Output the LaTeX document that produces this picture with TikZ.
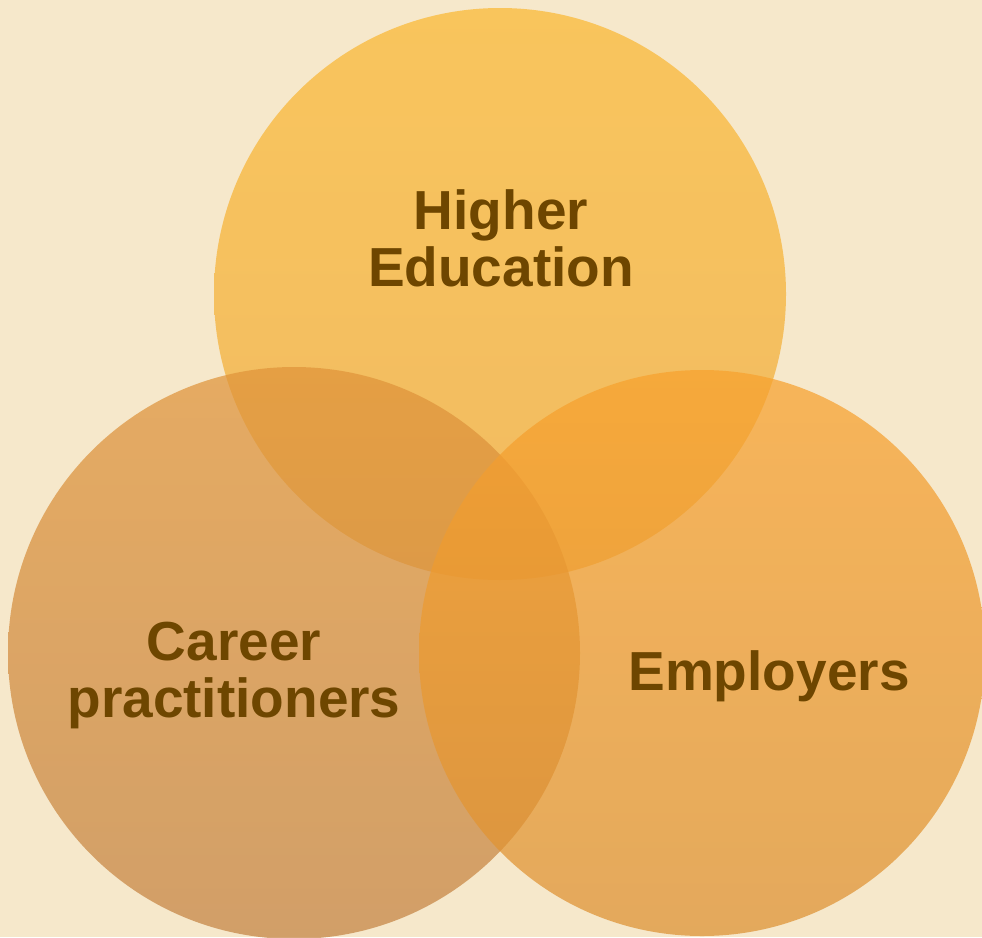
\documentclass[tikz,border=0pt]{standalone}
\usepackage{fontspec}
\setmainfont{Liberation Sans}
\usetikzlibrary{positioning}

\definecolor{paper}{RGB}{246,232,203}
\definecolor{labelbrown}{RGB}{110,70,0}
\definecolor{eduTop}{RGB}{251,184,50}
\definecolor{eduBot}{RGB}{239,170,58}
\definecolor{careerTop}{RGB}{224,148,58}
\definecolor{careerBot}{RGB}{196,131,66}
\definecolor{empTop}{RGB}{248,161,46}
\definecolor{empBot}{RGB}{221,145,50}

\begin{document}
\begin{tikzpicture}[
  x=1pt, y=-1pt,
  vennset/.style={circle, inner sep=0pt, minimum size=#1, draw=none, fill opacity=0.72},
  setlabel/.style={text=labelbrown, font=\fontsize{55}{57}\selectfont\bfseries, align=center, inner sep=0pt}
]

\fill[paper] (0,0) rectangle (982,937);
\useasboundingbox (0,0) rectangle (982,937);
\clip (0,0) rectangle (982,937);

% the three sets
\node[vennset=572pt, top color=eduTop, bottom color=eduBot] (edu) at (500,294) {};
\node[vennset=572pt, top color=careerTop, bottom color=careerBot] (career) at (294,653) {};
\node[vennset=566pt, top color=empTop, bottom color=empBot] (emp) at (702,653) {};

% labels
\node[setlabel] (eduText) at (501,238) {Higher\\Education};
\node[setlabel] (careerText) at (234,675) {Career\\practitioners};
\node[setlabel] (empText) at (769,676) {Employers};

\end{tikzpicture}
\end{document}
